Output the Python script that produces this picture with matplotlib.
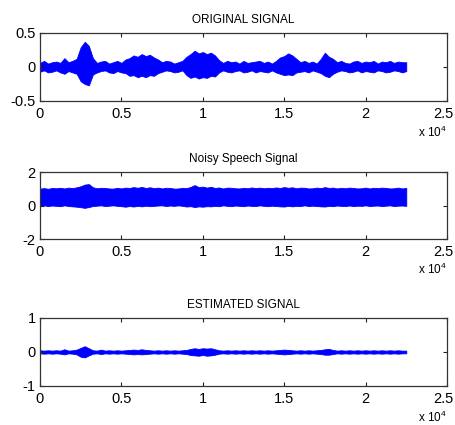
# -*- coding: utf-8 -*-
"""
Sinal original, sinal com ruído e sinal estimado (envoltórias lidas do gráfico)

"""

# Importando os módulos necessários
import numpy as np
import matplotlib
matplotlib.use('Agg')
import matplotlib.pyplot as plt
import matplotlib.transforms as mtransforms


##############################################################################
""" Dados """

# Amostras (passo de 250 amostras, de 0 a 22500)
amostras = np.arange(0, 22501, 250)

# Sinal original - envoltória superior e inferior
orig_sup = [0.06, 0.09, 0.05, 0.07, 0.08, 0.06, 0.13, 0.07, 0.09, 0.12,
            0.29, 0.37, 0.31, 0.13, 0.06, 0.08, 0.09, 0.05, 0.07, 0.09,
            0.06, 0.11, 0.13, 0.17, 0.15, 0.19, 0.16, 0.18, 0.14, 0.11,
            0.07, 0.09, 0.08, 0.05, 0.07, 0.09, 0.15, 0.19, 0.24, 0.20,
            0.22, 0.19, 0.21, 0.17, 0.10, 0.06, 0.09, 0.07, 0.08, 0.05,
            0.09, 0.06, 0.07, 0.08, 0.09, 0.06, 0.08, 0.05, 0.09, 0.14,
            0.16, 0.20, 0.17, 0.12, 0.07, 0.09, 0.06, 0.08, 0.05, 0.12,
            0.21, 0.15, 0.12, 0.07, 0.09, 0.06, 0.05, 0.08, 0.09, 0.06,
            0.08, 0.07, 0.09, 0.05, 0.08, 0.07, 0.09, 0.06, 0.08, 0.07,
            0.07]
orig_inf = [-0.07, -0.05, -0.08, -0.07, -0.05, -0.08, -0.10, -0.06, -0.08, -0.10,
            -0.21, -0.25, -0.27, -0.11, -0.08, -0.06, -0.05, -0.08, -0.09, -0.06,
            -0.08, -0.09, -0.13, -0.12, -0.15, -0.13, -0.15, -0.12, -0.13, -0.09,
            -0.07, -0.05, -0.06, -0.08, -0.07, -0.05, -0.12, -0.16, -0.14, -0.17,
            -0.15, -0.16, -0.13, -0.14, -0.08, -0.05, -0.07, -0.08, -0.06, -0.05,
            -0.08, -0.07, -0.05, -0.08, -0.06, -0.07, -0.08, -0.05, -0.08, -0.10,
            -0.12, -0.11, -0.12, -0.08, -0.07, -0.06, -0.08, -0.05, -0.07, -0.09,
            -0.13, -0.15, -0.10, -0.07, -0.05, -0.06, -0.08, -0.07, -0.05, -0.08,
            -0.06, -0.07, -0.08, -0.05, -0.06, -0.08, -0.07, -0.05, -0.06, -0.08,
            -0.06]

# Sinal com ruído - envoltória superior e inferior
ruido_sup = [1.01, 1.04, 1.00, 1.05, 1.03, 1.06, 1.02, 1.07, 1.04, 1.09,
             1.15, 1.25, 1.28, 1.09, 1.03, 1.06, 1.05, 1.02, 1.01, 1.06,
             1.02, 1.07, 1.05, 1.10, 1.06, 1.11, 1.05, 1.09, 1.04, 1.07,
             1.02, 1.06, 1.05, 1.01, 1.02, 1.06, 1.04, 1.11, 1.22, 1.10,
             1.13, 1.07, 1.12, 1.05, 1.08, 1.02, 1.07, 1.06, 1.03, 1.02,
             1.06, 1.03, 1.08, 1.04, 1.07, 1.03, 1.06, 1.04, 1.08, 1.05,
             1.10, 1.06, 1.09, 1.03, 1.07, 1.06, 1.02, 1.03, 1.07, 1.04,
             1.10, 1.05, 1.07, 1.02, 1.06, 1.03, 1.07, 1.05, 1.02, 1.03,
             1.07, 1.02, 1.06, 1.04, 1.07, 1.05, 1.02, 1.03, 1.07, 1.02,
             1.05]
ruido_inf = [-0.02, 0.01, -0.03, 0.00, -0.02, -0.04, 0.01, -0.03, -0.05, -0.07,
             -0.10, -0.14, -0.09, -0.03, -0.01, 0.01, -0.03, -0.01, 0.01, -0.02,
             -0.04, -0.07, -0.03, -0.06, -0.02, -0.05, -0.01, -0.04, -0.02, 0.00,
             0.01, -0.03, 0.00, -0.02, 0.01, -0.02, -0.06, -0.04, -0.09, -0.05,
             -0.07, -0.04, -0.05, -0.02, -0.04, 0.01, -0.02, -0.04, 0.00, -0.02,
             -0.04, 0.00, -0.02, -0.03, 0.01, -0.02, -0.04, -0.01, -0.03, -0.05,
             -0.06, -0.02, -0.05, -0.02, -0.03, 0.01, -0.03, -0.01, -0.03, -0.05,
             -0.06, -0.02, -0.04, 0.00, -0.02, -0.03, 0.00, -0.03, -0.01, -0.02,
             0.01, -0.03, -0.01, 0.00, -0.03, -0.01, 0.01, -0.03, -0.01, 0.00,
             -0.02]

# Sinal estimado - envoltória superior e inferior
est_sup = [0.05, 0.04, 0.05, 0.04, 0.05, 0.04, 0.08, 0.04, 0.05, 0.07,
           0.12, 0.17, 0.11, 0.05, 0.04, 0.07, 0.04, 0.05, 0.04, 0.05,
           0.04, 0.05, 0.06, 0.07, 0.06, 0.08, 0.06, 0.05, 0.04, 0.05,
           0.04, 0.05, 0.04, 0.05, 0.04, 0.05, 0.06, 0.09, 0.11, 0.09,
           0.11, 0.10, 0.11, 0.08, 0.05, 0.04, 0.05, 0.04, 0.05, 0.04,
           0.05, 0.04, 0.05, 0.04, 0.05, 0.04, 0.05, 0.04, 0.05, 0.06,
           0.07, 0.06, 0.05, 0.04, 0.05, 0.04, 0.05, 0.04, 0.05, 0.06,
           0.08, 0.09, 0.06, 0.04, 0.05, 0.04, 0.05, 0.04, 0.05, 0.04,
           0.05, 0.04, 0.05, 0.04, 0.05, 0.04, 0.05, 0.04, 0.05, 0.04,
           0.04]
est_inf = [-0.04, -0.05, -0.04, -0.05, -0.04, -0.05, -0.07, -0.04, -0.05, -0.07,
           -0.14, -0.16, -0.10, -0.05, -0.04, -0.06, -0.04, -0.05, -0.04, -0.05,
           -0.04, -0.05, -0.06, -0.07, -0.06, -0.07, -0.06, -0.05, -0.04, -0.05,
           -0.04, -0.05, -0.04, -0.05, -0.04, -0.05, -0.06, -0.09, -0.10, -0.11,
           -0.09, -0.11, -0.10, -0.08, -0.05, -0.04, -0.05, -0.04, -0.05, -0.04,
           -0.05, -0.04, -0.05, -0.04, -0.05, -0.04, -0.05, -0.04, -0.05, -0.06,
           -0.07, -0.06, -0.05, -0.04, -0.05, -0.04, -0.05, -0.04, -0.05, -0.06,
           -0.08, -0.08, -0.06, -0.04, -0.05, -0.04, -0.05, -0.04, -0.05, -0.04,
           -0.05, -0.04, -0.05, -0.04, -0.05, -0.04, -0.05, -0.04, -0.05, -0.04,
           -0.04]

# Títulos, ticks e limites de cada gráfico
titulos = ['ORIGINAL SIGNAL', 'Noisy Speech Signal', 'ESTIMATED SIGNAL']
yticks = [[-0.5, 0, 0.5], [-2, 0, 2], [-1, 0, 1]]
yrotulos = [['-0.5', '0', '0.5'], ['-2', '0', '2'], ['-1', '0', '1']]
xticks = [0, 5000, 10000, 15000, 20000, 25000]
xrotulos = ['0', '0.5', '1', '1.5', '2', '2.5']


##############################################################################
""" Gráfico """

plt.rcParams['font.family'] = ['Liberation Sans', 'DejaVu Sans']
plt.rcParams['mathtext.fontset'] = 'custom'
plt.rcParams['mathtext.rm'] = 'Liberation Sans'

fig = plt.figure(figsize=(4.56, 4.25), dpi=100)

# Posição dos eixos (esquerda, baixo, largura, altura)
posicoes = [[0.0877, 0.7624, 0.8925, 0.160],
            [0.0877, 0.4376, 0.8925, 0.1576],
            [0.0877, 0.0918, 0.8925, 0.160]]
sinais = [(orig_inf, orig_sup), (ruido_inf, ruido_sup), (est_inf, est_sup)]

# Pequeno deslocamento para o último rótulo (2.5) não sair da figura
desloc = mtransforms.ScaledTranslation(-4 / 100, 0, fig.dpi_scale_trans)

for k in range(3):
    ax = fig.add_axes(posicoes[k])
    inf, sup = sinais[k]
    ax.fill_between(amostras, inf, sup, color='#0000ff', linewidth=0.6,
                    edgecolor='#0000ff')

    ax.set_xlim(0, 25000)
    ax.set_ylim(yticks[k][0], yticks[k][-1])
    ax.set_xticks(xticks)
    ax.set_xticklabels(xrotulos)
    ax.set_yticks(yticks[k])
    ax.set_yticklabels(yrotulos[k])
    ax.tick_params(direction='in', top=True, right=True, length=3,
                   width=0.8, color='#222222', labelsize=10.5)
    ax.tick_params(axis='x', pad=4)
    ax.tick_params(axis='y', pad=3)
    ultimo = ax.get_xticklabels()[-1]
    ultimo.set_transform(ultimo.get_transform() + desloc)
    for s in ax.spines.values():
        s.set_color('#333333')
        s.set_linewidth(0.9)

    ax.set_title(titulos[k], fontsize=8.5, pad=7)
    # Fator de escala do eixo x
    ax.text(1.0, -0.46, r'x 10$^{\mathregular{4}}$', transform=ax.transAxes,
            ha='right', va='center', fontsize=8.5)

fig.savefig('out.png', dpi=100)
